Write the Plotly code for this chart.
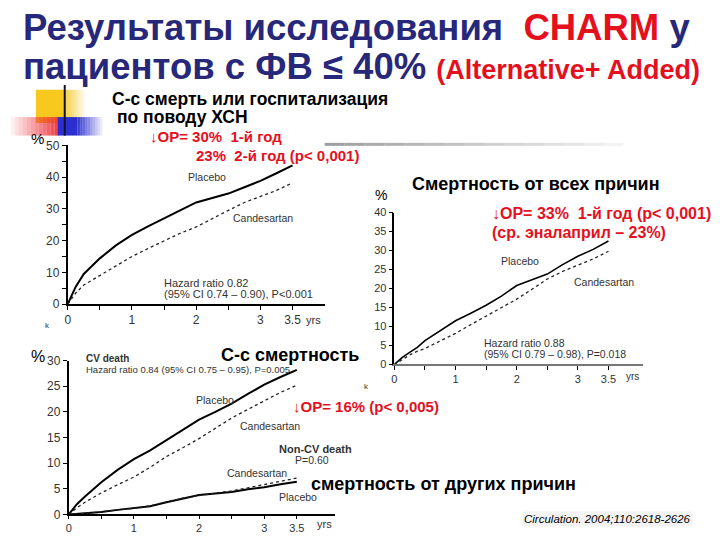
import plotly.graph_objects as go

W, H = 720, 540

# ---------------- data ----------------
t = [0, 0.125, 0.25, 0.375, 0.5, 0.75, 1, 1.25, 1.5, 1.75, 2, 2.25, 2.5, 2.75, 3, 3.25, 3.5]

# Chart 1: CV death or HF hospitalisation (%)
hf_placebo = [0, 5.5, 9.5, 12, 14.4, 18.5, 21.8, 24.5, 27.1, 29.5, 32, 33.3, 34.8, 36.8, 38.8, 41.2, 43.7]
hf_cand = [0, 3.5, 6, 7.5, 8.8, 12, 15, 17.5, 20, 22.3, 24.3, 27, 29.5, 32, 33.8, 35.8, 38.2]

# Chart 2: all-cause mortality (%)
all_placebo = [0, 1.8, 3.2, 4.5, 6.3, 8.8, 11.5, 13.5, 15.6, 18, 20.8, 22.3, 23.8, 26.3, 28.5, 30.3, 32.5]
all_cand = [0, 1.3, 2.5, 3.5, 4.2, 6.2, 8.2, 10.5, 12.8, 15, 17.2, 19.8, 22.5, 24.5, 26.2, 27.8, 29.8]

# Chart 3: CV death and non-CV death (%)
cv_placebo = [0, 2, 3.5, 5, 6.3, 8.7, 10.8, 12.5, 14.5, 16.5, 18.5, 20, 21.6, 23.5, 25.3, 26.8, 28.2]
cv_cand = [0, 1.3, 2.4, 3.3, 4.2, 5.8, 7.3, 9.2, 11.3, 13, 14.8, 16.8, 18.8, 20.5, 22.2, 23.8, 25.2]
ncv_placebo = [0, 0.1, 0.2, 0.35, 0.5, 0.9, 1.3, 1.6, 2.4, 3.1, 3.8, 4.1, 4.4, 4.9, 5.3, 5.9, 6.4]
ncv_cand = [0, 0.1, 0.2, 0.35, 0.5, 0.9, 1.2, 1.7, 2.5, 3.2, 3.7, 4.1, 4.6, 5.2, 5.8, 6.5, 7.1]

x_tickvals = [0, 0.5, 1, 1.5, 2, 2.5, 3, 3.5]
x_ticktext = ["0", "", "1", "", "2", "", "3", "3.5"]
y1_ticks = [0, 5, 10, 15, 20, 25, 30, 35, 40, 45, 50]
y1_text = ["0", "", "10", "", "20", "", "30", "", "40", "", "50"]
y2_ticks = [0, 5, 10, 15, 20, 25, 30, 35, 40]
y3_ticks = [0, 5, 10, 15, 20, 25, 30]

NAVY = "#27287A"
RED = "#E5101E"
TXT = "#333333"
SANS = "Liberation Sans, Arial, sans-serif"


def px(x):
    return x / W


def py(y):
    return 1 - y / H


fig = go.Figure()

solid = dict(color="black", width=2)
dotted = dict(color="#222222", width=1.3, dash="dot")

fig.add_trace(go.Scatter(x=t, y=hf_placebo, mode="lines", line=solid, xaxis="x", yaxis="y", showlegend=False))
fig.add_trace(go.Scatter(x=t, y=hf_cand, mode="lines", line=dotted, xaxis="x", yaxis="y", showlegend=False))
fig.add_trace(go.Scatter(x=t, y=all_placebo, mode="lines", line=dict(color="black", width=1.6), xaxis="x2", yaxis="y2", showlegend=False))
fig.add_trace(go.Scatter(x=t, y=all_cand, mode="lines", line=dotted, xaxis="x2", yaxis="y2", showlegend=False))
fig.add_trace(go.Scatter(x=t, y=cv_placebo, mode="lines", line=solid, xaxis="x3", yaxis="y3", showlegend=False))
fig.add_trace(go.Scatter(x=t, y=cv_cand, mode="lines", line=dotted, xaxis="x3", yaxis="y3", showlegend=False))
fig.add_trace(go.Scatter(x=t, y=ncv_placebo, mode="lines", line=solid, xaxis="x3", yaxis="y3", showlegend=False))
fig.add_trace(go.Scatter(x=t, y=ncv_cand, mode="lines", line=dotted, xaxis="x3", yaxis="y3", showlegend=False))


def xaxis(dom, rng, anchor, size, ticklen=4, lc="black"):
    return dict(domain=dom, range=rng, anchor=anchor, showgrid=False, zeroline=False,
                showline=True, linecolor=lc, linewidth=1.5,
                tickvals=x_tickvals, ticktext=x_ticktext, ticks="outside", ticklen=ticklen,
                tickcolor="black", tickfont=dict(family=SANS, size=size, color=TXT), fixedrange=True)


def yaxis(dom, rng, anchor, tv, tt, size, lw=1.5):
    return dict(domain=dom, range=rng, anchor=anchor, showgrid=False, zeroline=False,
                showline=True, linecolor="black", linewidth=lw,
                tickvals=tv, ticktext=tt, ticks="outside", ticklen=4,
                tickcolor="black", tickfont=dict(family=SANS, size=size, color=TXT), fixedrange=True)


fig.update_layout(
    width=W, height=H, margin=dict(l=0, r=0, t=0, b=0),
    paper_bgcolor="white", plot_bgcolor="rgba(0,0,0,0)",
    xaxis=xaxis([px(65), px(323)], [0, 4.0], "y", 12),
    yaxis=yaxis([py(305), py(142)], [0, 50], "x", y1_ticks, y1_text, 12, lw=2),
    xaxis2=xaxis([px(393), px(643)], [0, 4.07], "y2", 11, lc="#777777"),
    yaxis2=yaxis([py(367), py(211)], [0, 40], "x2", y2_ticks, [str(v) for v in y2_ticks], 11),
    xaxis3=xaxis([px(66), px(333)], [0, 4.08], "y3", 11, ticklen=3),
    yaxis3=yaxis([py(521), py(363)], [0, 30], "x3", y3_ticks, [str(v) for v in y3_ticks], 12, lw=2),
)

# ---------------- decorations ----------------
shapes = []
# yellow square fading to right
shapes.append(dict(type="rect", xref="paper", yref="paper", x0=px(33), x1=px(62), y0=py(119), y1=py(85),
                   fillcolor="#F7C81E", line=dict(width=0), layer="below"))
for i in range(10):
    shapes.append(dict(type="rect", xref="paper", yref="paper", x0=px(62 + 2 * i), x1=px(64 + 2 * i),
                       y0=py(119), y1=py(85), fillcolor="#F7C81E", opacity=0.9 - 0.09 * i,
                       line=dict(width=0), layer="below"))
# red block fading to left
for i in range(12):
    shapes.append(dict(type="rect", xref="paper", yref="paper", x0=px(8 + 4 * i), x1=px(12 + 4 * i),
                       y0=py(132), y1=py(113), fillcolor="#F0303A", opacity=0.08 + 0.075 * i,
                       line=dict(width=0), layer="below"))
# blue block fading to right
shapes.append(dict(type="rect", xref="paper", yref="paper", x0=px(55), x1=px(75), y0=py(132), y1=py(113),
                   fillcolor="#2B2FD0", line=dict(width=0), layer="below"))
for i in range(10):
    shapes.append(dict(type="rect", xref="paper", yref="paper", x0=px(75 + 2.5 * i), x1=px(77.5 + 2.5 * i),
                       y0=py(132), y1=py(113), fillcolor="#2B2FD0", opacity=0.9 - 0.09 * i,
                       line=dict(width=0), layer="below"))
# vertical black line
shapes.append(dict(type="line", xref="paper", yref="paper", x0=px(62), x1=px(62), y0=py(132), y1=py(80),
                   line=dict(color="#111133", width=2)))
# grey rule fading to right
for i in range(15):
    shapes.append(dict(type="line", xref="paper", yref="paper", x0=px(323 + 20 * i), x1=px(343 + 20 * i),
                       y0=py(141), y1=py(141), line=dict(color="#888888", width=3),
                       opacity=max(0.05, 0.8 - 0.05 * i)))
fig.update_layout(shapes=shapes)

# ---------------- text ----------------
ann = []


def add(text, x, y, size, color="black", family=SANS, xanchor="left", yanchor="middle",
        bold=False, italic=False, bg=None, pad=1):
    if bold:
        text = "<b>" + text + "</b>"
    if italic:
        text = "<i>" + text + "</i>"
    a = dict(text=text, x=px(x), y=py(y), xref="paper", yref="paper", showarrow=False,
             xanchor=xanchor, yanchor=yanchor, borderpad=pad,
             font=dict(family=family, size=size, color=color))
    if bg:
        a["bgcolor"] = bg
    ann.append(a)


title1 = "Результаты исследования&nbsp;&nbsp;<span style='color:" + RED + "'>CHARM</span> у"
title2 = ("пациентов с ФВ ≤ 40% <span style='color:" + RED +
          ";font-size:27px'>(Alternative+ Added)</span>")
add(title1, 19, 21, 36.5, color=NAVY, bold=True, pad=0)
add(title2, 19, 61, 36.5, color=NAVY, bold=True, pad=0)

add("С-с смерть или госпитализация", 107, 94, 17.5, bold=True)
add("по поводу ХСН", 112, 113, 17.5, bold=True)
add("↓ОР= 30%&nbsp;&nbsp;1-й год", 146, 133, 15, color=RED, bold=True)
add("23%&nbsp;&nbsp;2-й год (р< 0,001)", 192, 152, 15, color=RED, bold=True)

add("%", 26, 135, 15)
add("%", 372, 193, 14)
add("%", 26, 359, 16)

add("Placebo", 184, 175, 10.5, color=TXT)
add("Candesartan", 229, 217, 10.5, color=TXT)
add("Hazard ratio 0.82", 160, 283, 11, color=TXT)
add("(95% CI 0.74 – 0.90), P<0.001", 160, 295, 11, color=TXT)
add("yrs", 302, 321, 11, color=TXT)
add("k", 40, 327, 8, color=TXT)

add("Смертность от всех причин", 409, 182, 18, bold=True)
add("↓ОР= 33%&nbsp;&nbsp;1-й год (р< 0,001)", 489, 212, 16, color=RED, bold=True)
add("(ср. эналаприл – 23%)", 489, 231, 16, color=RED, bold=True)
add("Placebo", 498, 261, 10.5, color=TXT)
add("Candesartan", 571, 282, 10.5, color=TXT)
add("Hazard ratio 0.88", 481, 345, 10.5, color=TXT)
add("(95% CI 0.79 – 0.98), P=0.018", 481, 356, 10.5, color=TXT)
add("yrs", 624, 379, 10, color=TXT)
add("k", 361, 390, 8, color=TXT)

add("С-с смертность", 217, 357, 18, bold=True)
add("CV death", 81, 361, 10, color=TXT, bold=True)
add("Hazard ratio 0.84 (95% CI 0.75 – 0.95), P=0.005", 81, 372, 9.5, color=TXT)
add("Placebo", 192, 403, 10.5, color=TXT)
add("Candesartan", 236, 430, 10.5, color=TXT)
add("↓ОР= 16% (р< 0,005)", 289, 410, 15, color=RED, bold=True)
add("Non-CV death", 275, 454, 11, color=TXT, bold=True)
add("P=0.60", 291, 465, 10.5, color=TXT)
add("Candesartan", 223, 478, 10.5, color=TXT)
add("Placebo", 275, 503, 10.5, color=TXT)
add("смертность от других причин", 307, 490, 18, bold=True)
add("yrs", 313, 531, 11, color=TXT)
add("Circulation. 2004;110:2618-2626", 521, 526, 11.5, italic=True, bg="#F3F3F3")

fig.update_layout(annotations=ann)

fig.write_html("out.html", config={"displayModeBar": False},
               post_script="document.body.style.margin='0';document.body.style.overflow='hidden';")
